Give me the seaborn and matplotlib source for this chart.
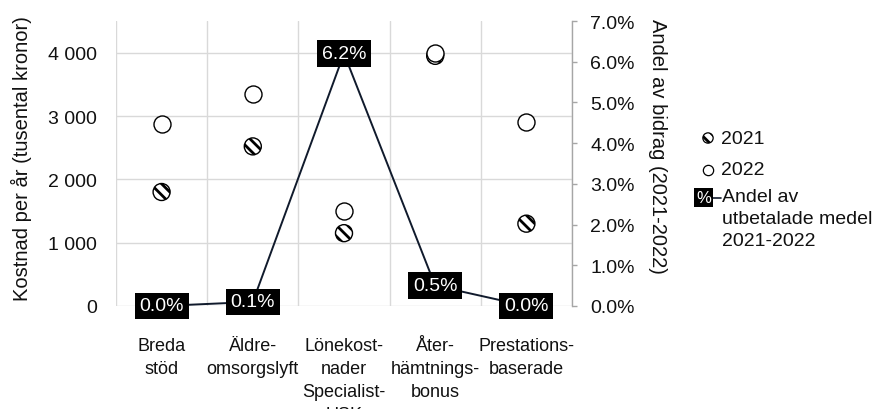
import numpy as np
import pandas as pd
import matplotlib
matplotlib.use("Agg")
import matplotlib.pyplot as plt
from matplotlib.lines import Line2D
from matplotlib.ticker import FuncFormatter
import seaborn as sns

# Bidragstyper (kategorier på x-axeln)
categories = [
    "Breda\nstöd",
    "Äldre-\nomsorgslyft",
    "Lönekost-\nnader\nSpecialist-\nUSK",
    "Åter-\nhämtnings-\nbonus",
    "Prestations-\nbaserade",
]
# Kostnad per år (tusental kronor)
cost_2021 = [1800, 2520, 1150, 3950, 1300]
cost_2022 = [2880, 3350, 1500, 4000, 2900]
# Andel av utbetalade medel 2021-2022 (procent)
share_pct = [0.0, 0.1, 6.2, 0.5, 0.0]

cost_ticks = [0, 1000, 2000, 3000, 4000]
share_ticks = [0, 1, 2, 3, 4, 5, 6, 7]

sns.set_theme(style="white")
plt.rcParams["font.family"] = ["Liberation Sans", "DejaVu Sans"]
plt.rcParams["hatch.linewidth"] = 2.0

W, H = 876, 410
fig = plt.figure(figsize=(W / 100, H / 100), dpi=100)


def fx(px):
    return px / W


def fy(py):
    return 1 - py / H


ax = fig.add_axes([fx(116), fy(307), (572 - 116) / W, (307 - 22) / H])
ax2 = ax.twinx()

pos = np.arange(len(categories))
df = pd.DataFrame({
    "pos": pos,
    "c2021": cost_2021,
    "c2022": cost_2022,
    "andel": share_pct,
})

txt_col = "#111111"
line_col = "#101a2c"
grid_col = "#d9d9d9"

# Kostnadspunkter: randiga cirklar för 2021, öppna för 2022
sns.scatterplot(data=df, x="pos", y="c2021", ax=ax, s=150, color="white",
                edgecolor="black", linewidth=1.0, hatch="\\\\\\", zorder=3,
                legend=False)
sns.scatterplot(data=df, x="pos", y="c2022", ax=ax, s=150, color="white",
                edgecolor="black", linewidth=1.0, zorder=4, legend=False)

# Andel av bidrag på högeraxeln
sns.lineplot(data=df, x="pos", y="andel", ax=ax2, color=line_col,
             linewidth=1.4, sort=False, legend=False, zorder=3)
for x, v in zip(pos, share_pct):
    ax2.text(x, v, f"{v:.1f}%", ha="center", va="center", color="white",
             fontsize=14, zorder=5,
             bbox=dict(boxstyle="square,pad=0.24", fc="black", ec="none"))

# Rutnät: vågräta linjer på kostnadsaxeln, lodräta mellan kategorierna
ax.set_yticks(cost_ticks)
ax.yaxis.set_major_formatter(FuncFormatter(lambda v, _: f"{v:,.0f}".replace(",", " ")))
ax.set_xticks(pos)
ax.set_xticklabels(categories)
ax.set_xticks(np.arange(-0.5, len(categories), 1.0), minor=True)
ax.grid(False)
ax.yaxis.grid(True, color=grid_col, linewidth=1.0)
ax.xaxis.grid(True, which="minor", color=grid_col, linewidth=1.0)
ax.set_axisbelow(True)
for s in ax.spines.values():
    s.set_visible(False)

ax.tick_params(axis="y", length=0, pad=13.5, labelsize=14, labelcolor=txt_col)
ax.tick_params(axis="x", which="both", length=0, pad=22.5, labelsize=13,
               labelcolor=txt_col)
for lbl in ax.get_xticklabels():
    lbl.set_linespacing(1.45)

ax2.set_yticks(share_ticks)
ax2.yaxis.set_major_formatter(FuncFormatter(lambda v, _: f"{v:.1f}%"))
ax2.grid(False)
for name, s in ax2.spines.items():
    s.set_visible(name == "right")
ax2.spines["right"].set_color("#a6a6a6")
ax2.spines["right"].set_linewidth(1.0)
ax2.tick_params(axis="y", direction="out", length=3.6, width=1.0,
                color="#a6a6a6", pad=9.4, labelsize=14, labelcolor=txt_col)

ax.set_ylabel("Kostnad per år (tusental kronor)", fontsize=14.5, color=txt_col,
              rotation=90, va="center", ha="center", rotation_mode="default")
ax.yaxis.set_label_coords((21 - 116) / 456, 0.52)
ax2.set_ylabel("Andel av bidrag (2021-2022)", fontsize=14.5, color=txt_col,
               rotation=270, va="center", ha="center", rotation_mode="default")
ax2.yaxis.set_label_coords((657 - 116) / 456, 0.565)

# Förklaring till höger om diagrammet
ax.scatter([fx(708)], [fy(139)], transform=fig.transFigure, s=55, c="white",
           edgecolors="black", linewidths=0.9, hatch="\\\\\\", clip_on=False)
ax.scatter([fx(708)], [fy(171)], transform=fig.transFigure, s=55, c="white",
           edgecolors="black", linewidths=0.9, clip_on=False)
fig.text(fx(721), fy(140), "2021", ha="left", va="center", fontsize=14,
         color=txt_col)
fig.text(fx(721), fy(171), "2022", ha="left", va="center", fontsize=14,
         color=txt_col)
fig.add_artist(Line2D([fx(713), fx(721)], [fy(199), fy(199)],
                      color=line_col, linewidth=1.2))
fig.text(fx(703.5), fy(198.5), "%", ha="center", va="center", fontsize=12,
         color="white",
         bbox=dict(boxstyle="square,pad=0.12", fc="black", ec="none"))
fig.text(fx(722), fy(189), "Andel av\nutbetalade medel\n2021-2022",
         ha="left", va="top", fontsize=14, color=txt_col, linespacing=1.4)

ax.set_xlim(-0.5, len(categories) - 0.5)
ax.set_ylim(0, 4500)
ax2.set_ylim(0, 7)

fig.savefig("out.png", dpi=100)
